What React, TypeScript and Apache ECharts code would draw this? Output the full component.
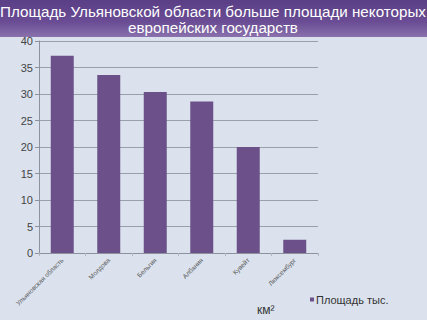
import React, { useEffect, useRef } from "react";
import * as echarts from "echarts";

const categories = ["Ульяновская область", "Молдова", "Бельгия", "Албания", "Кувейт", "Люксембург"];
const values = [37.2, 33.6, 30.4, 28.6, 20.0, 2.5];
const seriesName = "Площадь тыс.";
const titleText = "Площадь Ульяновской области больше площади некоторых\nевропейских государств";

export default function App() {
  const ref = useRef<HTMLDivElement>(null);
  useEffect(() => {
    const chart = echarts.init(ref.current!, null, { renderer: "svg" });
    chart.setOption({
      animation: false,
      backgroundColor: "#dbe2ed",
      graphic: [
        {
          type: "rect",
          shape: { x: 0, y: 0, width: 427, height: 37 },
          style: {
            fill: new echarts.graphic.LinearGradient(0, 0, 0, 1, [
              { offset: 0, color: "#5a3e86" },
              { offset: 0.6, color: "#6a4d94" },
              { offset: 1, color: "#8a72ad" },
            ]),
          },
          z: 10,
        },
        {
          type: "text",
          x: 213,
          y: 19,
          style: {
            text: titleText,
            fill: "#ffffff",
            font: "15.2px 'Liberation Sans', Arial, sans-serif",
            align: "center",
            verticalAlign: "middle",
            lineHeight: 16,
          },
          z: 11,
        },
        {
          type: "text",
          x: 257,
          y: 310,
          style: {
            text: "км²",
            fill: "#333",
            font: "12px 'Liberation Sans', Arial, sans-serif",
            verticalAlign: "middle",
          },
        },
      ],
      legend: {
        left: 305,
        top: 289,
        itemWidth: 4,
        itemHeight: 4,
        itemGap: 3,
        icon: "rect",
        textStyle: { color: "#333", fontSize: 11, fontFamily: "'Liberation Sans', Arial, sans-serif", padding: [0, 0, 0, -3] },
        data: [seriesName],
      },
      grid: { left: 39, right: 109, top: 41, bottom: 67, containLabel: false },
      xAxis: {
        type: "category",
        data: categories,
        axisLine: { lineStyle: { color: "#8d939e" } },
        axisTick: { show: true, alignWithLabel: false, lineStyle: { color: "#b0b5be" }, length: 3 },
        axisLabel: {
          rotate: 45,
          interval: 0,
          fontSize: 6.5,
          color: "#555",
          margin: 6,
          fontFamily: "'Liberation Sans', Arial, sans-serif",
        },
      },
      yAxis: {
        type: "value",
        min: 0,
        max: 40,
        interval: 5,
        axisLine: { show: true, lineStyle: { color: "#8d939e" } },
        axisTick: { show: true, length: 4, lineStyle: { color: "#8d939e" } },
        axisLabel: { fontSize: 11, color: "#444", margin: 6, fontFamily: "'Liberation Sans', Arial, sans-serif" },
        splitLine: { lineStyle: { color: "#9aa0ab", width: 1 } },
      },
      series: [
        {
          name: seriesName,
          type: "bar",
          data: values,
          barWidth: 23,
          itemStyle: { color: "#6b5089" },
        },
      ],
    });
    return () => chart.dispose();
  }, []);
  return <div ref={ref} style={{ width: 427, height: 320, position: "absolute", left: 0, top: 0 }} />;
}
